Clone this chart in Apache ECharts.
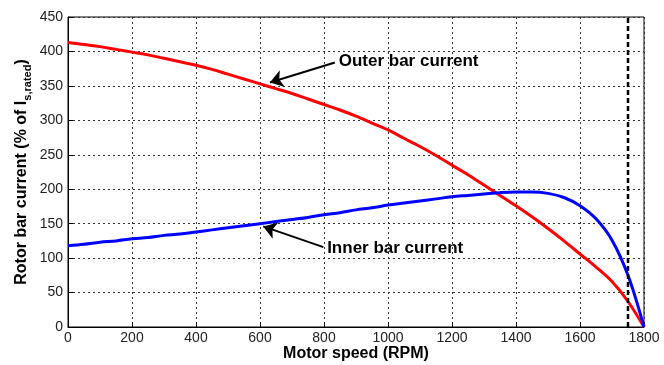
<!DOCTYPE html>
<html>
<head>
<meta charset="utf-8">
<script src="https://cdn.jsdelivr.net/npm/echarts@6/dist/echarts.min.js"></script>
<style>html,body{margin:0;padding:0;background:#fff}#c{width:664px;height:365px}</style>
</head>
<body>
<div id="c"></div>
<script>
const rpm   = [0,50,100,150,200,250,300,350,400,450,500,550,600,650,700,750,800,850,900,950,1000,1050,1100,1150,1200,1250,1300,1350,1400,1450,1500,1550,1600,1650,1700,1750,1800];
const outer = [413,410,407,403,399,395,390,385,380,374,367,360,353,346,339,331,323,315,306,296,286,274,262,249,235,221,206,191,176,160,143,125,106,87,66,37,0];
const inner = [118,120,123,125,128,130,133,135,138,141,144,147,150,153,156,159,163,166,170,173,177,180,183,186,189,191,193,195,196,196,194,188,176,157,126,75,0];
const ratedSpeed = 1750;
// annotation arrows: [tail, head] in data coords, and label text
const outerArrow = [[834,384],[631,355]];
const innerArrow = [[798,116],[610,146]];
const outerLabel = 'Outer bar current';
const innerLabel = 'Inner bar current';

const font = '"Liberation Sans", Arial, sans-serif';
const chart = echarts.init(document.getElementById('c'));

function arrowLine(arr, text) {
  return {
    silent: true,
    symbol: ['none', 'arrow'],
    symbolSize: 13,
    lineStyle: { color: '#000', width: 2, type: 'solid' },
    label: { show: true, position: 'start', formatter: text, color: '#000',
             fontFamily: font, fontWeight: 'bold', fontSize: 17, distance: 4,
             align: 'left', verticalAlign: 'middle' },
    emphasis: { disabled: true },
    data: [[{ coord: arr[0] }, { coord: arr[1] }]]
  };
}

chart.setOption({
  animation: false,
  grid: { left: 68, right: 20, top: 17, bottom: 38, containLabel: false, outerBoundsMode: 'none',
          show: true, borderColor: '#000', borderWidth: 1 },
  xAxis: {
    type: 'value', min: 0, max: 1800, interval: 200,
    name: 'Motor speed (RPM)', nameLocation: 'middle', nameGap: 19, nameMoveOverlap: false,
    nameTextStyle: { fontFamily: font, fontWeight: 'bold', fontSize: 16, color: '#000', verticalAlign: 'top' },
    axisLine: { show: true, lineStyle: { color: '#000', width: 1 } },
    axisTick: { show: true, inside: true, length: 5, lineStyle: { color: '#000' } },
    axisLabel: { fontFamily: font, fontSize: 14, color: '#222', margin: 4, formatter: v => String(v) },
    splitLine: { show: true, lineStyle: { color: '#333', width: 1, type: [2, 3] } }
  },
  yAxis: {
    type: 'value', min: 0, max: 450, interval: 50,
    name: '{b|Rotor bar current (% of I}{s|s,rated}{b|)}', nameLocation: 'middle', nameGap: 36, nameMoveOverlap: false,
    nameTextStyle: { fontFamily: font, color: '#000',
      rich: {
        b: { fontFamily: font, fontWeight: 'bold', fontSize: 16, color: '#000', lineHeight: 20 },
        s: { fontFamily: font, fontWeight: 'bold', fontSize: 11, color: '#000', lineHeight: 20, padding: [11, 0, 0, 0] }
      } },
    axisLine: { show: true, lineStyle: { color: '#000', width: 1 } },
    axisTick: { show: true, inside: true, length: 5, lineStyle: { color: '#000' } },
    axisLabel: { fontFamily: font, fontSize: 14, color: '#222', margin: 5 },
    splitLine: { show: true, lineStyle: { color: '#333', width: 1, type: [2, 3] } }
  },
  series: [
    {
      name: 'Outer', type: 'line', showSymbol: false, smooth: 0.35,
      data: rpm.map((x, i) => [x, outer[i]]),
      lineStyle: { color: '#ff0000', width: 3 }, itemStyle: { color: '#ff0000' },
      markLine: arrowLine(outerArrow, outerLabel), z: 3
    },
    {
      name: 'Inner', type: 'line', showSymbol: false, smooth: 0.35,
      data: rpm.map((x, i) => [x, inner[i]]),
      lineStyle: { color: '#0000ff', width: 3 }, itemStyle: { color: '#0000ff' },
      markLine: arrowLine(innerArrow, innerLabel), z: 3
    },
    {
      name: 'Rated', type: 'line', showSymbol: false,
      data: [[ratedSpeed, 0], [ratedSpeed, 450]],
      lineStyle: { color: '#000', width: 2.5, type: [5, 3] }, z: 4
    }
  ]
});
</script>
</body>
</html>
